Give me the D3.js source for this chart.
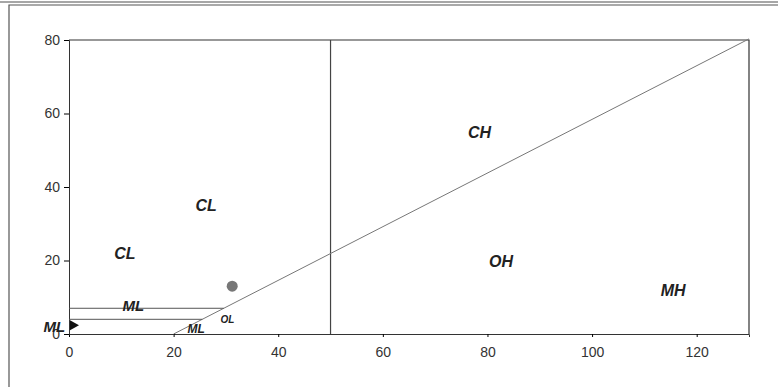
<!DOCTYPE html>
<html>
  <head>
    <meta charset="UTF-8" />
    <title>Plasticity chart</title>
    <style>
      body { margin: 0; background: #fff; }
      svg { display: block; font-family: "Liberation Sans", Arial, sans-serif; }
    </style>
  </head>
  <body>
    <svg></svg>

    <script src="https://d3js.org/d3.v7.min.js"></script>
    <script>
      // tick labels
      const xTicks = [0, 20, 40, 60, 80, 100, 120];
      const yTicks = [0, 20, 40, 60, 80];

      // A-line: PI = 0.73 (LL - 20), drawn from LL 20 to LL 130
      const aLineLL = [20, 130];
      // B-line at LL = 50
      const bLineLL = 50;
      // horizontal limits of the CL-ML zone
      const hLinesPI = [4, 7];

      // sample point (LL, PI)
      const samples = [{ ll: 31.2, pi: 13 }];

      // zone labels
      const zones = [
        { text: "CH", ll: 78.5, pi: 54.5, size: 16 },
        { text: "CL", ll: 26.2, pi: 34.5, size: 16 },
        { text: "CL", ll: 10.7, pi: 21.5, size: 16 },
        { text: "OH", ll: 82.6, pi: 19.3, size: 16 },
        { text: "MH", ll: 115.5, pi: 11.4, size: 16 },
        { text: "ML", ll: 12.3, pi: 7.3, size: 15 },
        { text: "ML", ll: 24.3, pi: 1, size: 12 },
        { text: "OL", ll: 30.3, pi: 3.6, size: 10 },
        { text: "ML", ll: -2.8, pi: 1.6, size: 15 }
      ];

      const width = 778, height = 387;
      const svg = d3.select("svg").attr("width", width).attr("height", height);

      // outer frame, top and left only
      svg.append("path")
        .attr("d", "M9,387 V5 H778")
        .attr("fill", "none")
        .attr("stroke", "#555")
        .attr("stroke-width", 1.2);
      svg.append("line")
        .attr("x1", 0).attr("x2", width).attr("y1", 2).attr("y2", 2)
        .attr("stroke", "#888").attr("stroke-width", 1.5);

      let x = d3.scaleLinear().domain([0, 130]).range([69, 749]);
      let y = d3.scaleLinear().domain([0, 80]).range([334, 40]);

      const pi = (ll) => 0.73 * (ll - 20);
      const llAt = (p) => p / 0.73 + 20;

      // axes
      svg.append("g")
        .attr("transform", "translate(0," + y(0) + ")")
        .call(d3.axisBottom(x).tickValues(xTicks).tickSize(3).tickPadding(10))
        .call((g) => g.select(".domain").attr("stroke", "#333"))
        .call((g) => g.selectAll("text").attr("font-size", 14).attr("fill", "#333"));

      svg.append("g")
        .attr("transform", "translate(" + x(0) + ",0)")
        .call(d3.axisLeft(y).tickValues(yTicks).tickSize(5).tickPadding(4))
        .call((g) => g.select(".domain").attr("stroke", "#333"))
        .call((g) => g.selectAll("text").attr("font-size", 14).attr("fill", "#333"));

      // top and right border of the plot
      svg.append("path")
        .attr("d", "M" + x(0) + "," + y(80) + "H" + x(130) + "V" + y(0))
        .attr("fill", "none")
        .attr("stroke", "#333")
        .attr("stroke-width", 1.2);

      // B-line
      svg.append("line")
        .attr("x1", x(bLineLL)).attr("x2", x(bLineLL))
        .attr("y1", y(80)).attr("y2", y(0))
        .attr("stroke", "#444").attr("stroke-width", 1.2);

      // A-line
      svg.append("line")
        .attr("x1", x(aLineLL[0])).attr("y1", y(pi(aLineLL[0])))
        .attr("x2", x(aLineLL[1])).attr("y2", y(pi(aLineLL[1])))
        .attr("stroke", "#777").attr("stroke-width", 1);

      // CL-ML limits
      svg.append("g")
        .selectAll("line")
        .data(hLinesPI)
        .enter()
        .append("line")
        .attr("x1", x(0))
        .attr("x2", (d) => x(llAt(d)))
        .attr("y1", (d) => y(d))
        .attr("y2", (d) => y(d))
        .attr("stroke", "#555")
        .attr("stroke-width", 1);

      // labels
      svg.append("g")
        .selectAll("text")
        .data(zones)
        .enter()
        .append("text")
        .attr("x", (d) => x(d.ll))
        .attr("y", (d) => y(d.pi))
        .attr("text-anchor", "middle")
        .attr("dominant-baseline", "middle")
        .attr("font-size", (d) => d.size)
        .attr("font-weight", "bold")
        .attr("font-style", "italic")
        .attr("fill", "#222")
        .text((d) => d.text);

      // small arrow near origin
      svg.append("path")
        .attr("d", "M" + (x(0) + 1) + "," + (y(2.4) - 5) + "l9,5l-9,5z")
        .attr("fill", "#111");

      // sample point
      svg.append("g")
        .selectAll("circle")
        .data(samples)
        .enter()
        .append("circle")
        .attr("cx", (d) => x(d.ll))
        .attr("cy", (d) => y(d.pi))
        .attr("r", 5.5)
        .attr("fill", "#777");
    </script>
  </body>
</html>
